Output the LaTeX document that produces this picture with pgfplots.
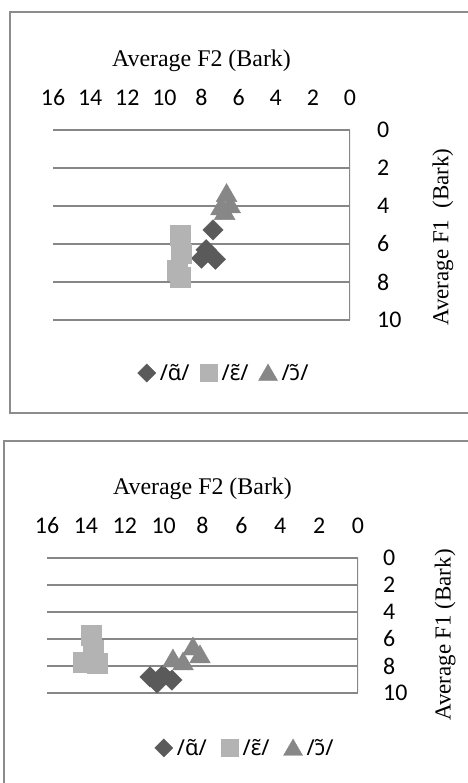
\documentclass[border=0pt]{standalone}
\usepackage{pgfplots}
\pgfplotsset{compat=1.18}
\usepackage{fontspec}
\setmainfont{Liberation Serif}
\newfontfamily\calfont{Carlito}
\newfontfamily\ipafont{Noto Sans}
\definecolor{diac}{HTML}{5A5A5A}
\definecolor{sqc}{HTML}{B3B3B3}
\definecolor{tric}{HTML}{878787}
\definecolor{gridc}{HTML}{878787}
\definecolor{framec}{HTML}{8C8C8C}

\pgfplotstableread{
x y
7.38 5.26
7.75 6.30
7.25 6.80
8.00 6.75
}\topA
\pgfplotstableread{
x y
9.16 5.53
9.10 6.50
9.32 7.37
9.16 7.74
}\topE
\pgfplotstableread{
x y
6.65 3.45
6.45 4.05
6.95 4.15
6.75 4.40
}\topO
\pgfplotstableread{
x y
10.70 8.81
10.34 9.26
10.03 8.67
9.57 9.04
}\botA
\pgfplotstableread{
x y
13.74 5.70
13.63 6.81
14.15 7.70
13.43 7.78
}\botE
\pgfplotstableread{
x y
9.52 7.63
9.00 7.85
8.49 6.74
8.13 7.33
}\botO

\pgfplotsset{
  vowel/.style={
    scale only axis,
    xmin=0, xmax=16, ymin=0, ymax=10,
    x dir=reverse, y dir=reverse,
    xtick={0,2,...,16}, ytick={0,2,...,10},
    xticklabel pos=top, yticklabel pos=right,
    axis line style={draw=none},
    major tick length=0pt,
    ymajorgrids,
    grid style={gridc, line width=1.3bp},
    /pgf/number format/assume math mode=true,
    ticklabel style={font=\calfont\fontsize{24}{28}\selectfont},
    xticklabel style={anchor=base, inner sep=0pt},
    yticklabel style={anchor=west, inner sep=0pt},
    legend style={draw=none, fill=none, legend columns=3,
      font=\ipafont\fontsize{22}{26}\selectfont, anchor=center,
      legend cell align=left, nodes={inner xsep=2bp, inner ysep=1bp},
      /tikz/every odd column/.append style={column sep=2bp}},
    legend image code/.code={\path[draw=none, fill=none] (0bp,-9bp) (18bp,9bp);
      \draw[mark repeat=1] plot coordinates {(9bp,0bp)};},
  },
  mA/.style={only marks, mark=square*, mark size=7.2bp, mark options={rotate=45, fill=diac, draw=diac}},
  mE/.style={only marks, mark=square*, mark size=9.8bp, mark options={fill=sqc, draw=sqc}},
  mO/.style={only marks, mark=triangle*, mark size=12bp, mark options={fill=tric, draw=tric}},
  lA/.style={only marks, mark=square*, mark size=6.4bp, mark options={rotate=45, fill=diac, draw=diac}},
  lE/.style={only marks, mark=square*, mark size=8.5bp, mark options={fill=sqc, draw=sqc}},
  lO/.style={only marks, mark=triangle*, mark size=11bp, mark options={fill=tric, draw=tric, yshift=-2bp}},
}

\begin{document}
\begin{tikzpicture}
\path[use as bounding box] (0bp,0bp) rectangle (468bp,-783bp);
\draw[framec, line width=1.4bp] (470bp,-12bp) -- (10bp,-12bp) -- (10bp,-413bp) -- (470bp,-413bp);
\draw[framec, line width=1.4bp] (470bp,-441bp) -- (4bp,-441bp) -- (4bp,-790bp);

\begin{axis}[vowel,
  at={(53bp,-320bp)}, anchor=south west, width=297bp, height=190bp,
  xticklabel style={yshift=25bp},
  yticklabel style={xshift=27bp},
  every axis x label/.style={at={(axis description cs:0.5,1.363)}, anchor=center, font=\fontsize{24}{28}\selectfont},
  every axis y label/.style={at={(axis description cs:1.313,0.437)}, anchor=center, rotate=90, font=\fontsize{23}{28}\selectfont},
  xlabel={Average F2 (Bark)},
  ylabel={Average F1\ \ (Bark)},
  legend style={at={(axis description cs:0.576,-0.279)},
    /tikz/every even column/.append style={column sep=8bp}},
]
\addlegendimage{lA}\addlegendentry{/ɑ̃/}
\addlegendimage{lE}\addlegendentry{/ɛ̃/}
\addlegendimage{lO}\addlegendentry{/ɔ̃/}
\addplot[mA, forget plot] table {\topA};
\addplot[mE, forget plot] table {\topE};
\addplot[mO, forget plot] table {\topO};
\draw[gridc, line width=1.3bp] (axis cs:0,0) -- (axis cs:0,10);
\end{axis}

\begin{axis}[vowel,
  at={(47bp,-693bp)}, anchor=south west, width=311bp, height=135bp,
  xticklabel style={yshift=25bp},
  yticklabel style={xshift=25bp},
  every axis x label/.style={at={(axis description cs:0.5,1.511)}, anchor=center, font=\fontsize{24}{28}\selectfont},
  every axis y label/.style={at={(axis description cs:1.280,0.430)}, anchor=center, rotate=90, font=\fontsize{23}{28}\selectfont},
  xlabel={Average F2 (Bark)},
  ylabel={Average F1 (Bark)},
  legend style={at={(axis description cs:0.637,-0.407)},
    /tikz/every even column/.append style={column sep=12bp}},
]
\addlegendimage{lA}\addlegendentry{/ɑ̃/}
\addlegendimage{lE}\addlegendentry{/ɛ̃/}
\addlegendimage{lO}\addlegendentry{/ɔ̃/}
\addplot[mA, forget plot] table {\botA};
\addplot[mE, forget plot] table {\botE};
\addplot[mO, forget plot] table {\botO};
\draw[gridc, line width=1.3bp] (axis cs:0,0) -- (axis cs:0,10);
\end{axis}
\end{tikzpicture}
\end{document}
